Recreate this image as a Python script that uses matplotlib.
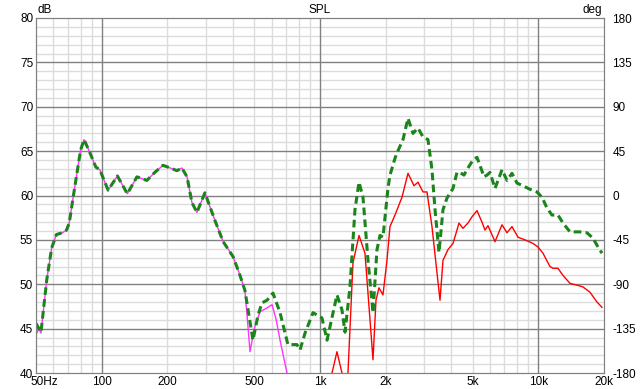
import numpy as np
import matplotlib.pyplot as plt
import matplotlib.transforms as mtransforms
from matplotlib.ticker import FixedLocator, NullFormatter

plt.rcParams['font.family'] = ['Liberation Sans', 'DejaVu Sans']
plt.rcParams['font.size'] = 8.5
plt.rcParams['axes.unicode_minus'] = False

## Data (frequency in Hz, level in dB)
magenta_f = [50, 51.5, 52.7, 56, 59, 62, 66, 69, 71, 74, 80, 83, 88, 94, 98, 107, 118, 131,
             145, 161, 175, 191, 206, 221, 233, 246, 259, 273, 297, 330, 360, 400, 430, 453,
             465, 478, 500, 531, 560, 603, 630, 656, 706, 740]
magenta_db = [44.3, 45.0, 44.5, 50.5, 54.1, 55.6, 55.8, 56.1, 56.9, 59.8, 65.1, 66.3, 64.9,
              63.2, 62.9, 60.6, 62.2, 60.2, 62.1, 61.7, 62.6, 63.4, 63.1, 62.8, 63.1, 62.1,
              59.2, 58.1, 60.3, 57.2, 54.8, 53.1, 51.0, 49.3, 46.0, 42.4, 45.0, 46.9, 47.2,
              47.7, 46.0, 43.7, 40.0, 37.5]

green_f = [50, 50.5, 52.7, 56, 59, 62, 66, 69, 71, 74, 80, 83, 88, 94, 98, 107, 118, 131,
           145, 161, 175, 191, 206, 221, 233, 246, 259, 273, 297, 330, 360, 400, 430, 453,
           493, 520, 542, 572, 609, 656, 713, 784, 810, 854, 929, 1021, 1077, 1196, 1261,
           1302, 1372, 1446, 1509, 1574, 1659, 1749, 1824, 1883, 1943, 2048, 2092, 2206,
           2253, 2400, 2530, 2667, 2812, 2964, 3124, 3258, 3365, 3509, 3660, 3815, 4067,
           4241, 4378, 4566, 4763, 5021, 5238, 5405, 5640, 5821, 6009, 6334, 6819, 7188,
           7577, 7987, 8509, 9160, 9862, 10398, 10958, 11551, 12308, 12975, 13970, 15523,
           16711, 17799, 18768, 19578]
green_db = [45.6, 45.4, 44.6, 50.5, 54.1, 55.6, 55.8, 56.1, 56.9, 59.8, 65.1, 66.3, 64.9,
            63.2, 62.9, 60.6, 62.2, 60.2, 62.1, 61.7, 62.6, 63.4, 63.1, 62.8, 63.1, 62.1,
            59.2, 58.1, 60.3, 57.2, 54.8, 53.1, 51.0, 49.3, 43.7, 46.5, 47.9, 48.2, 49.0,
            46.8, 43.2, 43.2, 42.6, 44.5, 46.8, 46.2, 43.7, 48.8, 47.1, 44.6, 49.7, 58.4,
            61.5, 59.8, 52.7, 46.8, 53.9, 55.5, 55.3, 60.8, 62.3, 64.2, 64.8, 66.3, 68.7,
            67.0, 67.6, 66.6, 66.3, 62.9, 58.4, 53.6, 58.4, 59.7, 60.8, 62.6, 62.6, 62.3,
            63.1, 64.0, 64.3, 63.4, 62.1, 62.3, 62.6, 60.8, 62.9, 61.7, 62.5, 61.4, 61.1,
            60.7, 60.4, 59.8, 58.6, 57.8, 57.8, 56.9, 55.9, 55.9, 55.8, 55.2, 54.2, 53.5]

red_f = [1100, 1135, 1196, 1261, 1290, 1320, 1343, 1416, 1509, 1607, 1659, 1749, 1805, 1863,
         1943, 2027, 2092, 2206, 2374, 2530, 2695, 2812, 2964, 3091, 3258, 3435, 3546, 3660,
         3857, 4067, 4241, 4331, 4518, 4763, 4969, 5238, 5522, 5700, 5883, 6334, 6819, 7188,
         7577, 8072, 8697, 9455, 9968, 10506, 11309, 11674, 12308, 12975, 13970, 15042,
         16022, 17251, 18573, 19578]
red_db = [37.5, 40.0, 42.4, 40.0, 36.0, 36.0, 40.0, 52.4, 55.5, 53.5, 49.0, 41.5, 48.2, 49.6,
          48.8, 52.7, 56.5, 57.8, 59.8, 62.5, 61.1, 61.5, 60.4, 60.4, 56.5, 51.3, 48.2, 52.7,
          53.9, 54.6, 56.1, 56.9, 56.3, 56.9, 57.6, 58.3, 57.0, 56.1, 56.6, 54.8, 56.7, 55.8,
          56.5, 55.3, 55.0, 54.6, 54.2, 53.5, 52.0, 51.8, 51.8, 51.0, 50.1, 49.9, 49.7, 49.1,
          48.0, 47.4]

xticks = [50, 100, 200, 500, 1000, 2000, 5000, 10000, 20000]
xtick_labels = ['50Hz', '100', '200', '500', '1k', '2k', '5k', '10k', '20k']
db_ticks = np.arange(40, 81, 5)
deg_ticks = np.arange(-180, 181, 45)

fig = plt.figure(figsize=(6.4, 3.89), dpi=100)
ax = fig.add_axes([36 / 640, 1 - 373 / 389, 568 / 640, 355 / 389])

# grid
minor_x = [m * 10 ** e for e in range(1, 5) for m in range(2, 10)]
minor_x = [v for v in minor_x if 50 < v < 20000]
for v in minor_x:
    ax.axvline(v, color='#dcdcdc', lw=1, zorder=0)
for v in [100, 1000, 10000]:
    ax.axvline(v, color='#808080', lw=1, zorder=1)
for v in range(41, 80):
    if v % 5:
        ax.axhline(v, color='#dcdcdc', lw=1, zorder=0)
for v in db_ticks[1:-1]:
    ax.axhline(v, color='#808080', lw=1, zorder=1)

ax.plot(magenta_f, magenta_db, color='#ff33ff', lw=1.0, zorder=3)
ax.plot(red_f, red_db, color='#ff0000', lw=1.0, zorder=4)
ax.plot(green_f, green_db, color='#1c841c', lw=2.2, ls=(0, (2.5, 1.4)), zorder=5)

ax.set_xscale('log')
ax.set_xlim(50, 20000)
ax.set_ylim(40, 80)
ax.xaxis.set_major_locator(FixedLocator(xticks))
ax.set_xticklabels(xtick_labels)
ax.xaxis.set_minor_locator(FixedLocator([]))
ax.xaxis.set_minor_formatter(NullFormatter())
ax.set_yticks(db_ticks)
ax.tick_params(length=0, pad=2)
lab0 = ax.get_xticklabels()[0]
lab0.set_ha('left')
lab0.set_transform(lab0.get_transform() + mtransforms.ScaledTranslation(-6 / 100, 0, fig.dpi_scale_trans))
for s in ax.spines.values():
    s.set_color('#808080')

ax2 = ax.twinx()
ax2.set_ylim(-180, 180)
ax2.set_yticks(deg_ticks)
ax2.tick_params(length=0, pad=6)
for s in ax2.spines.values():
    s.set_color('#808080')

fig.text(38 / 640, 1 - 10 / 389, 'dB', ha='left', va='center')
fig.text(320 / 640, 1 - 10 / 389, 'SPL', ha='center', va='center')
fig.text(602 / 640, 1 - 10 / 389, 'deg', ha='right', va='center')

fig.savefig('out.png', dpi=100)
